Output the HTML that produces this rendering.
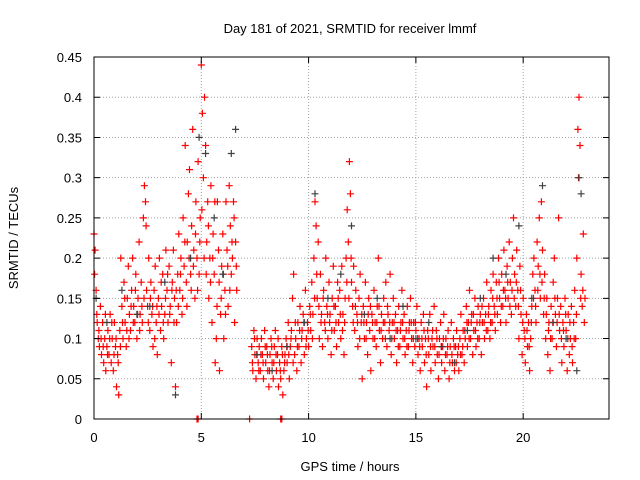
<!DOCTYPE html>
<html><head><meta charset="utf-8">
<style>
html,body{margin:0;padding:0;background:#fff;}
svg{display:block;font-family:"Liberation Sans",sans-serif;}
</style></head>
<body>
<svg id="chart" width="640" height="480" viewBox="0 0 640 480">
<rect x="0" y="0" width="640" height="480" fill="#fff"/>
<text x="350" y="33" text-anchor="middle" font-size="13">Day 181 of 2021, SRMTID for receiver lmmf</text>
<g id="grid"></g>
<g id="marks"></g>
<rect x="94" y="57" width="515" height="362" fill="none" stroke="#000" stroke-width="1"/>
<g id="axes"></g>
<text transform="translate(18,238) rotate(-90)" text-anchor="middle" font-size="13">SRMTID / TECUs</text>
<text x="350" y="471" text-anchor="middle" font-size="13">GPS time / hours</text>
</svg>
<script>
const xTicks = [0,5,10,15,20];
const yTicks = [0,0.05,0.1,0.15,0.2,0.25,0.3,0.35,0.4,0.45];
const yTickLabels = ["0","0.05","0.1","0.15","0.2","0.25","0.3","0.35","0.4","0.45"];
const redPoints = [[0.0,.23],[0.05,.21],[0.1,.16],[0.15,.12],[0.2,.1],[0.25,.09],[0.3,.14],[0.35,.08],[0.4,.12],[0.45,.07],[0.5,.1],[0.55,.06],[0.6,.09],[0.65,.11],[0.7,.08],[0.75,.13],[0.8,.07],[0.85,.1],[0.9,.06],[0.95,.12],[1.0,.09],[1.05,.04],[1.1,.08],[1.15,.03],[1.2,.11],[1.25,.2],[1.3,.14],[1.35,.1],[1.4,.17],[1.45,.12],[1.5,.09],[1.55,.15],[1.6,.19],[1.65,.13],[1.7,.11],[1.75,.16],[1.8,.2],[1.85,.14],[1.9,.12],[1.95,.18],[2.0,.1],[2.05,.15],[2.1,.22],[2.15,.13],[2.2,.17],[2.25,.12],[2.3,.25],[2.35,.29],[2.4,.27],[2.45,.16],[2.5,.14],[2.55,.2],[2.6,.11],[2.65,.17],[2.7,.13],[2.75,.09],[2.8,.16],[2.85,.19],[2.9,.12],[2.95,.08],[3.0,.15],[3.05,.2],[3.1,.11],[3.15,.14],[3.2,.18],[3.25,.1],[3.3,.13],[3.35,.21],[3.4,.16],[3.45,.12],[3.5,.19],[3.55,.14],[3.6,.07],[3.65,.17],[3.7,.21],[3.75,.15],[3.8,.04],[3.85,.12],[3.9,.18],[3.95,.23],[4.0,.16],[4.05,.2],[4.1,.13],[4.15,.25],[4.2,.19],[4.25,.34],[4.3,.17],[4.35,.22],[4.4,.28],[4.45,.31],[4.5,.18],[4.55,.24],[4.6,.36],[4.65,.21],[4.7,.15],[4.75,.27],[4.8,.2],[4.85,.32],[4.9,.18],[4.95,.25],[5.0,.44],[5.05,.38],[5.1,.3],[5.15,.4],[5.2,.34],[5.25,.22],[5.3,.27],[5.35,.15],[5.4,.2],[5.45,.29],[5.5,.12],[5.55,.23],[5.6,.18],[5.65,.07],[5.7,.1],[5.75,.27],[5.8,.21],[5.85,.06],[5.9,.13],[5.95,.19],[6.0,.23],[6.05,.1],[6.1,.16],[6.15,.27],[6.2,.21],[6.25,.14],[6.3,.29],[6.35,.24],[6.4,.18],[6.45,.2],[6.5,.27],[6.55,.12],[6.6,.22],[6.65,.16],
[7.35,.09],[7.4,.06],[7.45,.11],[7.5,.08],[7.55,.05],[7.6,.1],[7.65,.07],[7.7,.09],[7.75,.06],[7.8,.1],[7.85,.08],[7.9,.05],[7.95,.11],[8.0,.07],[8.05,.09],[8.1,.06],[8.15,.04],[8.2,.08],[8.25,.1],[8.3,.07],[8.35,.05],[8.4,.09],[8.45,.11],[8.5,.06],[8.55,.08],[8.6,.04],[8.65,.07],[8.7,.05],[8.75,.09],[8.8,.03],[8.85,.06],[8.9,.08],[8.95,.1],[9.0,.07],[9.05,.12],[9.1,.05],[9.15,.09],[9.2,.11],[9.25,.15],[9.3,.18],[9.35,.08],[9.4,.1],[9.45,.06],[9.5,.12],[9.55,.09],[9.6,.14],[9.65,.07],[9.7,.11],[9.75,.13],[9.8,.08],[9.85,.16],[9.9,.1],[9.95,.12],[10.0,.09],[10.05,.14],[10.1,.11],[10.15,.17],[10.2,.13],[10.25,.2],[10.3,.27],[10.35,.24],[10.4,.15],[10.45,.22],[10.5,.1],[10.55,.18],[10.6,.13],[10.65,.09],[10.7,.16],[10.75,.12],[10.8,.2],[10.85,.14],[10.9,.1],[10.95,.17],[11.0,.13],[11.05,.08],[11.1,.15],[11.15,.19],[11.2,.11],[11.25,.14],[11.3,.09],[11.35,.17],[11.4,.12],[11.45,.16],[11.5,.1],[11.55,.19],[11.6,.13],[11.65,.08],[11.7,.15],[11.75,.2],[11.8,.26],[11.85,.22],[11.9,.32],[11.95,.28],[12.0,.17],[12.05,.14],[12.1,.19],[12.15,.11],[12.2,.16],[12.25,.13],[12.3,.09],[12.35,.15],[12.4,.18],[12.45,.12],[12.5,.05],[12.55,.14],[12.6,.1],[12.65,.17],[12.7,.12],[12.75,.08],[12.8,.15],[12.85,.11],[12.9,.06],[12.95,.13],[13.0,.1],[13.05,.16],[13.1,.12],[13.15,.09],[13.2,.14],[13.25,.2],[13.3,.11],[13.35,.07],[13.4,.13],[13.45,.1],[13.5,.15],[13.55,.12],[13.6,.17],[13.65,.09],[13.7,.13],[13.75,.11],[13.8,.18],[13.85,.08],[13.9,.12],[13.95,.15],[14.0,.1],[14.05,.13],[14.1,.07],[14.15,.11],[14.2,.14],[14.25,.09],[14.3,.12],[14.35,.16],[14.4,.1],[14.45,.13],[14.5,.08],[14.55,.11],[14.6,.14],[14.65,.09],[14.7,.12],[14.75,.15],[14.8,.1],[14.85,.07],[14.9,.12],[14.95,.09],[15.0,.11],[15.05,.14],[15.1,.08],[15.15,.1],[15.2,.06],[15.25,.12],[15.3,.09],[15.35,.13],[15.4,.07],[15.45,.1],[15.5,.04],[15.55,.11],[15.6,.08],[15.65,.13],[15.7,.06],[15.75,.1],[15.8,.09],[15.85,.14],[15.9,.07],[15.95,.11],[16.0,.08],[16.05,.05],[16.1,.1],[16.15,.12],[16.2,.07],[16.25,.09],[16.3,.13],[16.35,.06],[16.4,.1],[16.45,.08],[16.5,.11],[16.55,.05],[16.6,.09],[16.65,.12],[16.7,.07],[16.75,.1],[16.8,.06],[16.85,.09],[16.9,.11],[16.95,.08],[17.0,.06],[17.05,.1],[17.1,.13],[17.15,.08],[17.2,.11],[17.25,.07],[17.3,.1],[17.35,.14],[17.4,.09],[17.45,.12],[17.5,.16],[17.55,.1],[17.6,.13],[17.65,.08],[17.7,.11],[17.75,.15],[17.8,.09],[17.85,.12],[17.9,.14],[17.95,.1],[18.0,.13],[18.05,.08],[18.1,.12],[18.15,.15],[18.2,.1],[18.25,.13],[18.3,.17],[18.35,.11],[18.4,.14],[18.45,.1],[18.5,.16],[18.55,.12],[18.6,.18],[18.65,.14],[18.7,.11],[18.75,.17],[18.8,.13],[18.85,.2],[18.9,.15],[18.95,.12],[19.0,.18],[19.05,.14],[19.1,.21],[19.15,.16],[19.2,.12],[19.25,.19],[19.3,.15],[19.35,.22],[19.4,.17],[19.45,.13],[19.5,.2],[19.55,.25],[19.6,.18],[19.65,.14],[19.7,.21],[19.75,.16],[19.8,.1],[19.85,.19],[19.9,.13],[19.95,.08],[20.0,.15],[20.05,.11],[20.1,.07],[20.15,.13],[20.2,.09],[20.25,.12],[20.3,.06],[20.35,.1],[20.4,.14],[20.45,.18],[20.5,.2],[20.55,.16],[20.6,.12],[20.65,.22],[20.7,.19],[20.75,.25],[20.8,.15],[20.85,.27],[20.9,.21],[20.95,.13],[21.0,.18],[21.05,.1],[21.1,.15],[21.15,.08],[21.2,.12],[21.25,.06],[21.3,.14],[21.35,.1],[21.4,.17],[21.45,.2],[21.5,.13],[21.55,.09],[21.6,.15],[21.65,.25],[21.7,.11],[21.75,.14],[21.8,.07],[21.85,.12],[21.9,.09],[21.95,.15],[22.0,.11],[22.05,.06],[22.1,.13],[22.15,.08],[22.2,.1],[22.25,.14],[22.3,.07],[22.35,.12],[22.4,.16],[22.45,.1],[22.5,.2],[22.55,.36],[22.6,.4],[22.65,.34],[22.7,.18],[22.75,.14],[22.8,.23],[22.85,.12],
[4.8,0],[4.85,0],[7.25,0],[8.7,0],[8.75,0]];
const redPointsExtra = [[0.03,.18],[0.13,.13],[0.23,.11],[0.33,.1],[0.43,.09],[0.53,.13],[0.63,.08],[0.73,.1],[0.83,.12],[0.93,.08],[1.03,.1],[1.13,.07],[1.23,.09],[1.33,.12],[1.43,.15],[1.53,.11],[1.63,.1],[1.73,.14],[1.83,.12],[1.93,.16],[2.03,.13],[2.13,.11],[2.23,.14],[2.33,.15],[2.43,.24],[2.53,.12],[2.63,.15],[2.73,.14],[2.83,.1],[2.93,.14],[3.03,.13],[3.13,.17],[3.23,.12],[3.33,.15],[3.43,.18],[3.53,.13],[3.63,.16],[3.73,.12],[3.83,.16],[3.93,.14],[4.03,.18],[4.13,.15],[4.23,.22],[4.33,.14],[4.43,.2],[4.53,.16],[4.63,.19],[4.73,.23],[4.83,.16],[4.93,.22],[5.03,.26],[5.13,.2],[5.23,.18],[5.33,.24],[5.43,.17],[5.53,.2],[5.63,.27],[5.73,.14],[5.83,.17],[5.93,.15],[6.03,.18],[6.13,.13],[6.23,.19],[6.33,.16],[6.43,.22],[6.53,.25],[6.63,.19],
[7.38,.07],[7.48,.1],[7.58,.08],[7.68,.06],[7.78,.08],[7.88,.07],[7.98,.09],[8.08,.08],[8.18,.06],[8.28,.09],[8.38,.07],[8.48,.08],[8.58,.1],[8.68,.06],[8.78,.08],[8.88,.07],[8.98,.09],[9.08,.08],[9.18,.1],[9.28,.07],[9.38,.12],[9.48,.09],[9.58,.11],[9.68,.1],[9.78,.12],[9.88,.09],[9.98,.11],[10.08,.13],[10.18,.1],[10.28,.15],[10.38,.18],[10.48,.14],[10.58,.12],[10.68,.15],[10.78,.11],[10.88,.13],[10.98,.12],[11.08,.11],[11.18,.14],[11.28,.12],[11.38,.15],[11.48,.13],[11.58,.11],[11.68,.12],[11.78,.17],[11.88,.15],[11.98,.2],[12.08,.12],[12.18,.14],[12.28,.12],[12.38,.1],[12.48,.13],[12.58,.12],[12.68,.1],[12.78,.13],[12.88,.14],[12.98,.12],[13.08,.1],[13.18,.12],[13.28,.14],[13.38,.11],[13.48,.12],[13.58,.1],[13.68,.14],[13.78,.12],[13.88,.1],[13.98,.12],[14.08,.11],[14.18,.09],[14.28,.11],[14.38,.12],[14.48,.1],[14.58,.09],[14.68,.11],[14.78,.12],[14.88,.1],[14.98,.12],[15.08,.1],[15.18,.09],[15.28,.1],[15.38,.11],[15.48,.08],[15.58,.1],[15.68,.09],[15.78,.11],[15.88,.09],[15.98,.1],[16.08,.08],[16.18,.09],[16.28,.1],[16.38,.08],[16.48,.09],[16.58,.07],[16.68,.08],[16.78,.09],[16.88,.07],[16.98,.09],[17.08,.08],[17.18,.09],[17.28,.11],[17.38,.12],[17.48,.1],[17.58,.12],[17.68,.13],[17.78,.11],[17.88,.1],[17.98,.12],[18.08,.14],[18.18,.12],[18.28,.11],[18.38,.13],[18.48,.12],[18.58,.15],[18.68,.13],[18.78,.15],[18.88,.17],[18.98,.14],[19.08,.16],[19.18,.15],[19.28,.17],[19.38,.14],[19.48,.16],[19.58,.15],[19.68,.17],[19.78,.14],[19.88,.16],[19.98,.12],[20.08,.1],[20.18,.11],[20.28,.09],[20.38,.12],[20.48,.15],[20.58,.14],[20.68,.16],[20.78,.18],[20.88,.17],[20.98,.15],[21.08,.13],[21.18,.11],[21.28,.1],[21.38,.12],[21.48,.15],[21.58,.12],[21.68,.13],[21.78,.1],[21.88,.11],[21.98,.13],[22.08,.1],[22.18,.12],[22.28,.09],[22.38,.1],[22.48,.13],[22.58,.3],[22.68,.15],[22.78,.16],[22.88,.15]];
const blackPoints = [[0.1,.15],[0.6,.12],[1.3,.16],[2.0,.13],[2.6,.14],[3.3,.17],[3.8,.03],[4.5,.2],[4.9,.35],[5.2,.33],[5.6,.25],[6.0,.18],[6.4,.33],[6.6,.36],[7.6,.08],[8.3,.06],[9.0,.09],[9.8,.12],[10.3,.28],[10.9,.15],[11.5,.18],[12.0,.24],[12.6,.13],[13.2,.15],[13.8,.1],[14.4,.14],[15.0,.1],[15.6,.12],[16.2,.09],[16.8,.07],[17.4,.11],[18.0,.15],[18.6,.2],[19.2,.18],[19.8,.24],[20.4,.15],[20.9,.29],[21.4,.12],[22.0,.1],[22.5,.06],[22.7,.28],[22.6,.3]];

const NS = "http://www.w3.org/2000/svg";
const X0 = 94, X1 = 609, Y0 = 419, Y1 = 57;
const xMax = 24, yMax = 0.45;
function xs(t){ return X0 + (t / xMax) * (X1 - X0); }
function ys(v){ return Y0 - (v / yMax) * (Y0 - Y1); }

const grid = document.getElementById('grid');
const axes = document.getElementById('axes');
const marks = document.getElementById('marks');

yTicks.forEach((v, i) => {
  const y = ys(v);
  if (i > 0 && i < yTicks.length - 1) {
    const g = document.createElementNS(NS, 'line');
    g.setAttribute('x1', X0); g.setAttribute('x2', X1);
    g.setAttribute('y1', y); g.setAttribute('y2', y);
    g.setAttribute('stroke', '#a0a0a0'); g.setAttribute('stroke-dasharray', '1,2');
    
    
    grid.appendChild(g);
  }
  const tk = document.createElementNS(NS, 'path');
  tk.setAttribute('d', `M${X0},${y}h6M${X1},${y}h-6`);
  tk.setAttribute('stroke', '#000');
  
  
  axes.appendChild(tk);
  const tx = document.createElementNS(NS, 'text');
  tx.setAttribute('x', 82); tx.setAttribute('y', y + 5);
  tx.setAttribute('text-anchor', 'end'); tx.setAttribute('font-size', '13');
  tx.textContent = yTickLabels[i];
  
  
  axes.appendChild(tx);
});

xTicks.forEach((t) => {
  const x = xs(t);
  if (t > 0) {
    const g = document.createElementNS(NS, 'line');
    g.setAttribute('x1', x); g.setAttribute('x2', x);
    g.setAttribute('y1', Y1); g.setAttribute('y2', Y0);
    g.setAttribute('stroke', '#a0a0a0'); g.setAttribute('stroke-dasharray', '1,2');
    
    
    grid.appendChild(g);
  }
  const tk = document.createElementNS(NS, 'path');
  tk.setAttribute('d', `M${x},${Y0}v-6M${x},${Y1}v6`);
  tk.setAttribute('stroke', '#000');
  
  
  axes.appendChild(tk);
  const tx = document.createElementNS(NS, 'text');
  tx.setAttribute('x', x); tx.setAttribute('y', 442);
  tx.setAttribute('text-anchor', 'middle'); tx.setAttribute('font-size', '13');
  tx.textContent = String(t);
  
  
  axes.appendChild(tx);
});

function plus(pts, color, name) {
  let d = '';
  pts.forEach(p => {
    const x = xs(p[0]), y = ys(p[1]);
    d += `M${(x-3.5).toFixed(1)},${y.toFixed(1)}h7M${x.toFixed(1)},${(y-3.5).toFixed(1)}v7`;
  });
  const path = document.createElementNS(NS, 'path');
  path.setAttribute('d', d);
  path.setAttribute('stroke', color);
  path.setAttribute('stroke-width', '1.2');
  path.setAttribute('fill', 'none');
  
  
  marks.appendChild(path);
}
plus(redPoints, '#ff0000', 'red-series-points');
plus(redPointsExtra, '#ff0000', 'red-series-points-extra');
plus(blackPoints, '#404040', 'black-series-points');
</script>
</body></html>
